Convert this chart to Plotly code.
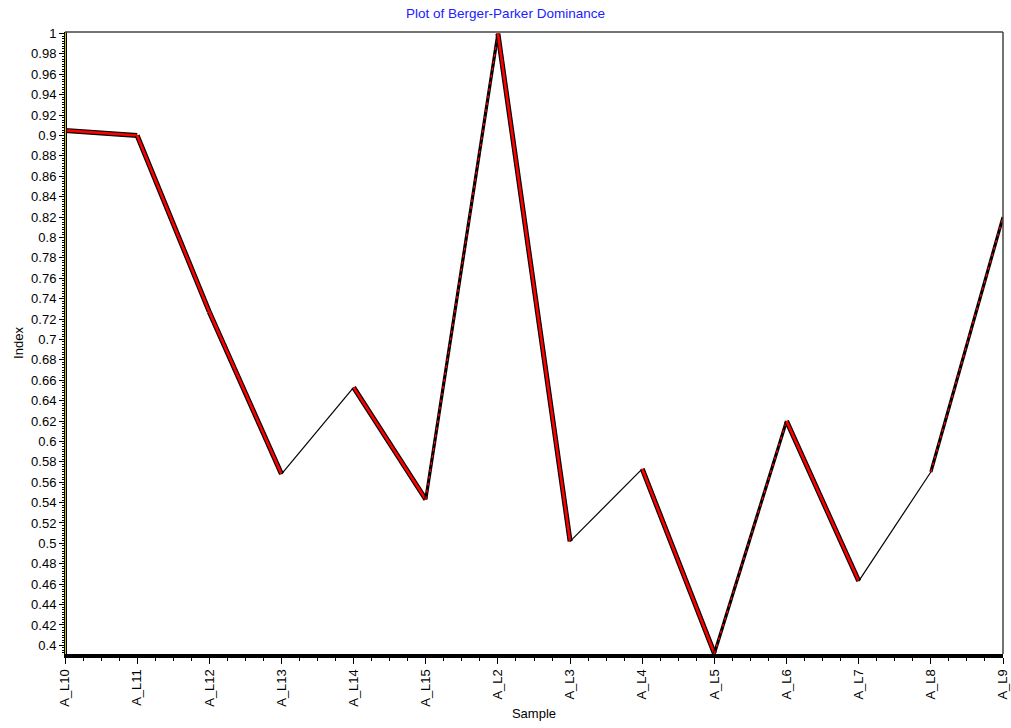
import plotly.graph_objects as go

# ---- data ----
samples = ["A_L10", "A_L11", "A_L12", "A_L13", "A_L14", "A_L15", "A_L2",
           "A_L3", "A_L4", "A_L5", "A_L6", "A_L7", "A_L8", "A_L9"]
dominance = [0.905, 0.900, 0.727, 0.568, 0.653, 0.543, 1.000,
             0.502, 0.573, 0.392, 0.620, 0.463, 0.570, 0.820]
y_ticks = [round(0.40 + 0.02 * i, 2) for i in range(31)]
y_tick_labels = [f"{v:g}" for v in y_ticks]

title_text = "Plot of Berger-Parker Dominance"
x_title = "Sample"
y_title = "Index"

FONT = "Liberation Sans, Arial, sans-serif"
Y_MIN, Y_MAX = 0.3915, 1.0015

xs = list(range(len(samples)))
fig = go.Figure()

# ribbon-like line: descending segments show the red face, ascending show the edge
for i in range(len(samples) - 1):
    x_seg = [xs[i], xs[i + 1]]
    y_seg = [dominance[i], dominance[i + 1]]
    rise = dominance[i + 1] - dominance[i]
    if rise <= 0:
        fig.add_trace(go.Scatter(x=x_seg, y=y_seg, mode="lines",
                                 line=dict(color="black", width=5),
                                 hoverinfo="skip", showlegend=False))
        fig.add_trace(go.Scatter(x=x_seg, y=y_seg, mode="lines",
                                 line=dict(color="#ff0000", width=2.6),
                                 hoverinfo="skip", showlegend=False))
    elif rise > 0.2:
        fig.add_trace(go.Scatter(x=x_seg, y=y_seg, mode="lines",
                                 line=dict(color="black", width=3.2),
                                 hoverinfo="skip", showlegend=False))
        fig.add_trace(go.Scatter(x=x_seg, y=y_seg, mode="lines",
                                 line=dict(color="#ff0000", width=1.4, dash="3px,4px"),
                                 hoverinfo="skip", showlegend=False))
    else:
        fig.add_trace(go.Scatter(x=x_seg, y=y_seg, mode="lines",
                                 line=dict(color="black", width=1.2),
                                 hoverinfo="skip", showlegend=False))

# left yellow wall and frame
fig.add_shape(type="line", xref="x", yref="paper", x0=0, x1=0, y0=0, y1=1,
              line=dict(color="black", width=4), layer="above")
fig.add_shape(type="line", xref="x", yref="paper", x0=0, x1=0, y0=0, y1=1,
              line=dict(color="#ffff00", width=1.6), layer="above")
fig.add_shape(type="line", xref="paper", yref="paper", x0=0, x1=1, y0=1, y1=1,
              line=dict(color="#444444", width=1.5), layer="above")
fig.add_shape(type="line", xref="paper", yref="paper", x0=1, x1=1, y0=0, y1=1,
              line=dict(color="#444444", width=1.5), layer="above")

fig.update_layout(
    width=1011, height=728,
    margin=dict(l=65, r=8, t=32, b=74, autoexpand=False),
    paper_bgcolor="white", plot_bgcolor="white",
    font=dict(family=FONT, size=13, color="black"),
    title=dict(text=title_text, x=0.5, xanchor="center", y=1 - 13 / 728,
               yanchor="middle", yref="container",
               font=dict(family=FONT, size=13.5, color="#2020ff")),
    showlegend=False,
)

fig.update_xaxes(
    range=[0, len(samples) - 1], automargin=False,
    tickmode="array", tickvals=xs, ticktext=samples, tickangle=-90,
    ticks="outside", ticklen=6, tickwidth=1, tickcolor="black",
    showgrid=False, zeroline=False,
    showline=True, linecolor="black", linewidth=4,
    minor=dict(dtick=0.25, tick0=0, ticks="outside", ticklen=3,
               tickcolor="black", showgrid=False),
    title=dict(text=x_title, standoff=4, font=dict(size=13)),
    tickfont=dict(size=13),
)

fig.update_yaxes(
    range=[Y_MIN, Y_MAX], automargin=False,
    tickmode="array", tickvals=y_ticks, ticktext=y_tick_labels,
    ticks="outside", ticklen=5, tickwidth=1, tickcolor="black",
    showgrid=False, zeroline=False,
    showline=True, linecolor="black", linewidth=1,
    minor=dict(dtick=0.0025, tick0=0.4, ticks="outside", ticklen=2,
               tickcolor="black", showgrid=False),
    title=dict(text=y_title, standoff=4, font=dict(size=13)),
    tickfont=dict(size=13),
)

fig.write_html("out.html",
               config={"displayModeBar": False},
               post_script="document.body.style.margin='0';document.body.style.overflow='hidden';")
